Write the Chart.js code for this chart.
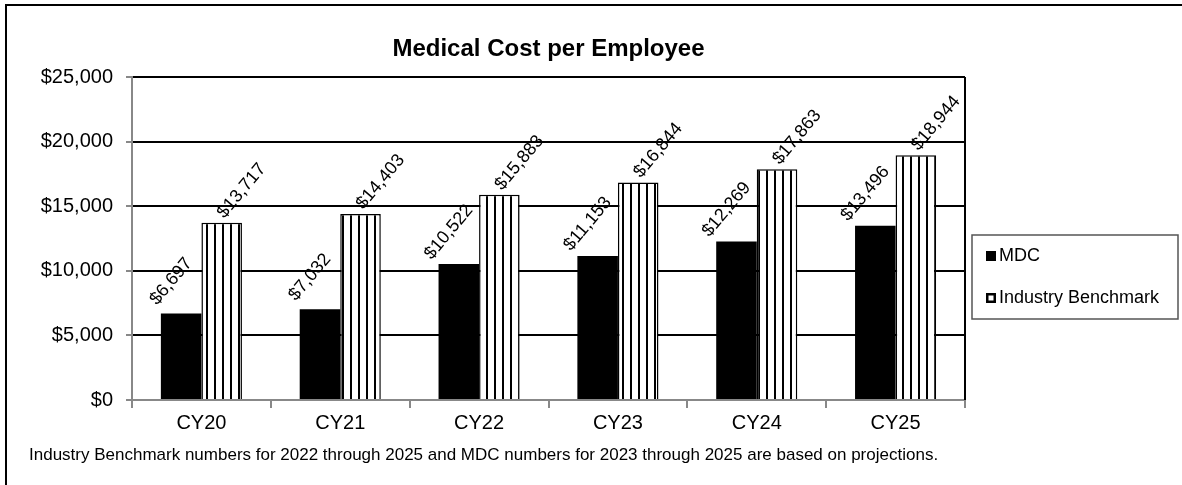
<!DOCTYPE html>
<html>
<head>
<meta charset="utf-8">
<script src="https://cdn.jsdelivr.net/npm/chart.js@4/dist/chart.umd.min.js"></script>
<style>
  html, body { margin: 0; padding: 0; background: #fff; }
  #wrap { position: relative; width: 1182px; height: 485px; }
</style>
</head>
<body>
<div id="wrap"><canvas id="myGraph" width="1182" height="485"></canvas></div>
<script>
const categories = ["CY20", "CY21", "CY22", "CY23", "CY24", "CY25"];
const mdcValues = [6697, 7032, 10522, 11153, 12269, 13496];
const benchmarkValues = [13717, 14403, 15883, 16844, 17863, 18944];
const seriesNames = ["MDC", "Industry Benchmark"];
const chartTitle = "Medical Cost per Employee";
const footNote = "Industry Benchmark numbers for 2022 through 2025 and MDC numbers for 2023 through 2025 are based on projections.";

const FONT = "'Liberation Sans', Arial, sans-serif";

// vertical stripe fill for the benchmark bars
const makeStripes = () => {
  const c = document.createElement("canvas");
  c.width = 8;
  c.height = 8;
  const ctx = c.getContext("2d");
  ctx.fillStyle = "#fff";
  ctx.fillRect(0, 0, 8, 8);
  ctx.fillStyle = "#000";
  ctx.fillRect(6, 0, 2, 8);
  return ctx.createPattern(c, "repeat");
};

const fmt = (v) => "$" + v.toLocaleString("en-US");

const frame = {
  id: "frame",
  beforeDraw(chart) {
    const ctx = chart.ctx;
    ctx.save();
    ctx.fillStyle = "#fff";
    ctx.fillRect(0, 0, chart.width, chart.height);
    ctx.strokeStyle = "#000";
    ctx.lineWidth = 2;
    ctx.beginPath();
    ctx.moveTo(6, chart.height + 2);
    ctx.lineTo(6, 5);
    ctx.lineTo(chart.width + 2, 5);
    ctx.stroke();
    ctx.restore();
  },
  afterDraw(chart) {
    const ctx = chart.ctx;
    const a = chart.chartArea;
    ctx.save();
    // right edge of plot area
    ctx.strokeStyle = "#000";
    ctx.lineWidth = 2;
    ctx.beginPath();
    ctx.moveTo(a.right, a.top);
    ctx.lineTo(a.right, a.bottom);
    ctx.stroke();

    // title
    ctx.fillStyle = "#000";
    ctx.font = "bold 24px " + FONT;
    ctx.textAlign = "center";
    ctx.textBaseline = "alphabetic";
    ctx.fillText(chartTitle, (a.left + a.right) / 2, 56);

    // footnote
    ctx.font = "17px " + FONT;
    ctx.textAlign = "left";
    ctx.fillText(footNote, 29, 460);

    // legend
    ctx.strokeStyle = "#555";
    ctx.lineWidth = 1.5;
    ctx.strokeRect(972, 235, 206, 84);
    ctx.fillStyle = "#000";
    ctx.fillRect(986, 251, 10, 10);
    ctx.fillRect(986, 293, 10, 10);
    ctx.fillStyle = "#fff";
    ctx.fillRect(988.5, 295.5, 5, 5);
    ctx.fillStyle = "#000";
    ctx.font = "18px " + FONT;
    ctx.textBaseline = "middle";
    ctx.fillText(seriesNames[0], 999, 256);
    ctx.fillText(seriesNames[1], 999, 298);
    ctx.restore();
  },
};

const valueLabels = {
  id: "valueLabels",
  afterDatasetsDraw(chart) {
    const ctx = chart.ctx;
    const shifts = [-10, 20];
    ctx.save();
    ctx.fillStyle = "#000";
    ctx.font = "18px " + FONT;
    ctx.textAlign = "center";
    ctx.textBaseline = "middle";
    chart.data.datasets.forEach((ds, i) => {
      chart.getDatasetMeta(i).data.forEach((bar, j) => {
        ctx.save();
        ctx.translate(bar.x + shifts[i], bar.y - 32);
        ctx.rotate(-50 * Math.PI / 180);
        ctx.fillText(fmt(ds.data[j]), 0, 0);
        ctx.restore();
      });
    });
    ctx.restore();
  },
};

const info = {
  labels: categories,
  datasets: [
    {
      label: seriesNames[0],
      data: mdcValues,
      backgroundColor: "#000",
      borderColor: "#000",
      borderWidth: 0,
    },
    {
      label: seriesNames[1],
      data: benchmarkValues,
      backgroundColor: makeStripes(),
      borderColor: "#000",
      borderWidth: 1.5,
    },
  ],
};

const options = {
  responsive: false,
  animation: false,
  layout: { padding: { left: 0, top: 77, right: 217, bottom: 0 } },
  datasets: {
    bar: { categoryPercentage: 0.584, barPercentage: 1 },
  },
  scales: {
    x: {
      afterFit: (axis) => { axis.height = 85; },
      grid: {
        offset: true,
        drawOnChartArea: false,
        color: "#888",
        tickColor: "#888",
        tickLength: 8,
        lineWidth: 2,
      },
      border: { color: "#888", width: 2 },
      ticks: {
        color: "#000",
        padding: 3,
        font: { family: FONT, size: 20 },
      },
    },
    y: {
      min: 0,
      max: 25000,
      afterFit: (axis) => { axis.width = 132; },
      ticks: {
        stepSize: 5000,
        color: "#000",
        padding: 13,
        font: { family: FONT, size: 20 },
        callback: (v) => fmt(v),
      },
      grid: {
        color: "#000",
        lineWidth: 2,
        tickColor: "#888",
        tickLength: 6,
      },
      border: { color: "#888", width: 2 },
    },
  },
  plugins: {
    legend: { display: false },
    tooltip: { enabled: false },
    title: { display: false },
  },
};

new Chart(document.getElementById("myGraph"), {
  type: "bar",
  data: info,
  options,
  plugins: [frame, valueLabels],
});
</script>
</body>
</html>
